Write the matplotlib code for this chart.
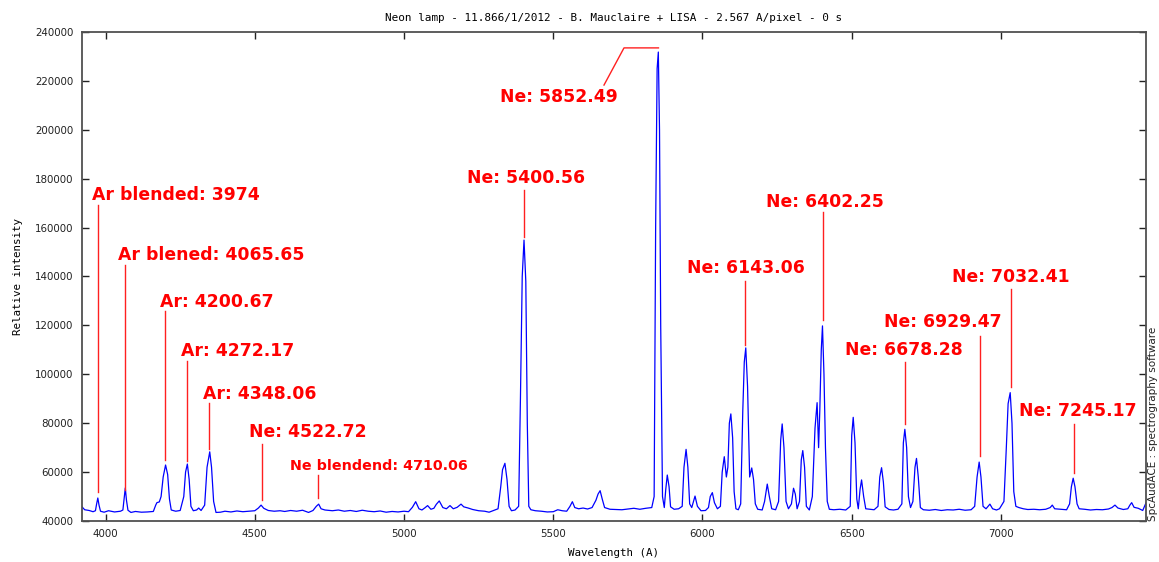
import matplotlib
matplotlib.use("Agg")
import matplotlib.pyplot as plt

# spectre de la lampe au néon (longueur d'onde en A, intensité relative)
wavelength = [
    3921, 3930, 3945, 3958, 3966, 3970, 3974, 3978, 3983, 3995, 4010, 4030, 4050, 4058, 4062, 4066,
    4070, 4075, 4085, 4100, 4120, 4140, 4160, 4168, 4172, 4180, 4186, 4193, 4201, 4208, 4214, 4220,
    4235, 4250, 4262, 4268, 4274, 4280, 4286, 4294, 4305, 4312, 4320, 4332, 4340, 4349, 4355, 4362,
    4370, 4385, 4400, 4420, 4440, 4460, 4480, 4500, 4512, 4521, 4530, 4545, 4565, 4585, 4600, 4620,
    4640, 4660, 4680, 4695, 4706, 4714, 4722, 4735, 4760, 4780, 4800, 4820, 4840, 4860, 4880, 4900,
    4920, 4940, 4960, 4980, 5000, 5015, 5028, 5039, 5050, 5060, 5070, 5079, 5090, 5100, 5108, 5118,
    5130, 5142, 5154, 5165, 5178, 5191, 5200, 5215, 5230, 5250, 5270, 5285, 5300, 5315, 5324, 5330,
    5338, 5345, 5352, 5360, 5372, 5384, 5390, 5396, 5402, 5408, 5413, 5418, 5425, 5440, 5460, 5480,
    5500, 5515, 5530, 5545, 5556, 5564, 5572, 5585, 5600, 5615, 5630, 5643, 5650, 5657, 5664, 5672,
    5690, 5710, 5730, 5750, 5770, 5790, 5810, 5830, 5838, 5843, 5848, 5852, 5856, 5860, 5866, 5872,
    5877, 5882, 5888, 5893, 5905, 5920, 5932, 5938, 5945, 5951, 5957, 5964, 5975, 5983, 5995, 6010,
    6020, 6026, 6033, 6040, 6050, 6060, 6066, 6073, 6080, 6085, 6090, 6095, 6101, 6106, 6112, 6120,
    6128, 6135, 6140, 6145, 6151, 6158, 6165, 6171, 6177, 6185, 6200, 6208, 6217, 6224, 6232, 6245,
    6255, 6262, 6267, 6273, 6280, 6288, 6298, 6305, 6311, 6317, 6325, 6331, 6336, 6342, 6348, 6358,
    6368, 6377, 6384, 6389, 6393, 6398, 6402, 6407, 6412, 6418, 6425, 6440, 6460, 6480, 6495, 6500,
    6505, 6511, 6517, 6522, 6528, 6533, 6540, 6547, 6560, 6575, 6588, 6594, 6600, 6606, 6612, 6625,
    6640, 6655, 6668, 6673, 6678, 6684, 6690, 6697, 6705, 6712, 6717, 6723, 6730, 6740, 6760, 6780,
    6800, 6820, 6840, 6860, 6880, 6900, 6912, 6920, 6927, 6933, 6940, 6950, 6963, 6972, 6985, 6995,
    7010, 7018, 7024, 7031, 7037, 7043, 7050, 7060, 7075, 7090, 7110, 7130, 7150, 7165, 7172, 7180,
    7200, 7220, 7230, 7236, 7242, 7248, 7255, 7262, 7280, 7300, 7320, 7340, 7360, 7372, 7382, 7392,
    7410, 7425, 7432, 7438, 7446, 7460, 7475, 7486,
]
intensity = [
    45800, 44600, 44300, 43800, 44200, 47000, 49400, 46500, 44000, 43600, 44200, 43700, 44000, 44500, 49000, 53500,
    48500, 44400, 43500, 43900, 43600, 43700, 43900, 46500, 47500, 47800, 50000, 58000, 62900, 59000, 49000, 44500,
    44000, 44300, 50000, 60000, 63300, 57000, 46000, 44200, 44500, 45300, 44300, 46500, 62000, 68300, 62000, 48000,
    43500, 43600, 44000, 43700, 44100, 43800, 44000, 44200, 45300, 46500, 45200, 44300, 44000, 44200, 43900, 44300,
    44000, 44400, 43500, 44300, 46000, 46900, 45000, 44500, 44200, 44500, 44000, 44300, 43900, 44400, 44000, 43800,
    44100, 43600, 43900, 43700, 44000, 43800, 45600, 47900, 45000, 44500, 45400, 46300, 44800, 45200, 46800, 48200,
    45500, 45000, 46300, 45000, 45600, 46900, 45800, 45300, 44700, 44200, 44000, 43600, 44300, 45000, 54000, 61000,
    63600, 57000, 46000, 44200, 44500, 46000, 90000, 140000, 154900, 138000, 80000, 46000, 44600, 44200, 44000, 43700,
    43800, 44600, 44200, 44000, 46000, 47900, 45500, 45000, 45300, 44900, 45500, 48500, 51000, 52400, 49000, 45500,
    44800, 44700, 44600, 44900, 45200, 44800, 45200, 45500, 50000, 160000, 225000, 231800, 200000, 120000, 50000, 45500,
    53000, 58800, 54000, 45800, 44800, 45000, 46000, 62000, 69300, 62000, 47000, 45500, 50200, 46000, 44200, 44300,
    45500, 50000, 51600, 47500, 45000, 46000, 60000, 66300, 58000, 62000, 80000, 83800, 74000, 52000, 45000, 44600,
    47000, 85000, 105000, 110800, 95000, 58000, 61700, 57000, 47000, 44800, 44500, 48000, 55100, 50000, 45000, 44600,
    48000, 73000, 79700, 70000, 48000, 45000, 47000, 53400, 51000, 45000, 48000, 65000, 68800, 62000, 46000, 44500,
    50000, 78000, 88400, 70000, 85000, 110000, 119800, 100000, 70000, 48000, 44800, 44600, 44800, 44500, 46000, 75000,
    82400, 72000, 49000, 45000, 53000, 56800, 50000, 45000, 44800, 44600, 46000, 58000, 61800, 56000, 45800, 44700,
    44500, 44800, 47000, 72000, 77500, 70000, 50000, 45500, 48000, 62000, 65600, 58000, 45500, 44600, 44400, 44700,
    44300, 44600, 44500, 44800, 44400, 44600, 46000, 58000, 64100, 58000, 46000, 45000, 46900, 45000, 44500, 45000,
    48000, 70000, 88000, 92500, 80000, 52000, 46000, 45500, 45000, 44700, 44800, 44600, 44800, 45500, 46500, 45000,
    44800, 44600, 47000, 54000, 57500, 54000, 47000, 45000, 44800, 44500, 44700, 44600, 44900, 45500, 46500, 45300,
    44700, 45000, 46500, 47500, 45600, 45200, 44300, 47400,
]

# identifications des raies : texte, position du texte, trait de repère
labels = ["Ar blended: 3974", "Ar blened: 4065.65", "Ar: 4200.67", "Ar: 4272.17", "Ar: 4348.06",
          "Ne: 4522.72", "Ne blendend: 4710.06", "Ne: 5400.56", "Ne: 5852.49", "Ne: 6143.06",
          "Ne: 6402.25", "Ne: 6678.28", "Ne: 6929.47", "Ne: 7032.41", "Ne: 7245.17"]
label_x = [3955, 4042, 4183, 4253, 4327, 4481, 4618, 5211, 5322, 5948, 6213, 6477, 6608, 6836, 7060]
label_y = [173300, 148800, 129600, 109500, 92000, 76400, 62500, 180300, 213400, 143500,
           170500, 109900, 121400, 139800, 85000]
line_x = [3974, 4065.65, 4200.67, 4272.17, 4348.06, 4522.72, 4710.06, 5400.56, None, 6143.06,
          6402.25, 6678.28, 6929.47, 7032.41, 7245.17]
line_top = [169200, 144700, 125900, 105400, 88300, 71500, 58800, 175400, None, 138200,
            166400, 105000, 115700, 134900, 79700]
line_bottom = [51900, 52700, 65000, 64500, 69400, 48600, 49400, 156200, None, 112000,
               122200, 79700, 66600, 94800, 59600]
# repère coudé pour la raie 5852.49 qui sort presque du cadre
bent_x = [5670, 5737, 5852.49]
bent_y = [218300, 233500, 233500]

fig = plt.figure(figsize=(11.59, 5.62), dpi=100)
ax = fig.add_axes([82 / 1159, 41 / 562, 1064 / 1159, 489 / 562])

ax.plot(wavelength, intensity, color="#0000ff", lw=0.9)

for i, txt in enumerate(labels):
    size = 10.3 if "blendend" in txt else 12.4
    ax.text(label_x[i], label_y[i], txt, color="#ff0000", fontsize=size, fontweight="bold",
            ha="left", va="center", family="DejaVu Sans")
    if line_x[i] is not None:
        ax.plot([line_x[i], line_x[i]], [line_bottom[i], line_top[i]], color="#ff2020", lw=1)
ax.plot(bent_x, bent_y, color="#ff2020", lw=1)

ax.set_xlim(3921, 7486)
ax.set_ylim(40000, 240000)
ax.set_xticks([4000, 4500, 5000, 5500, 6000, 6500, 7000])
ax.set_yticks(range(40000, 240001, 20000))
ax.tick_params(direction="in", top=True, right=True, length=5, width=1,
               labelsize=7.4, pad=6, colors="#222222")
for sp in ax.spines.values():
    sp.set_color("#505050")
    sp.set_linewidth(1.3)

mono = "DejaVu Sans Mono"
ax.set_xlabel("Wavelength (A)", family=mono, fontsize=7.8, labelpad=6)
ax.set_ylabel("Relative intensity", family=mono, fontsize=7.8, labelpad=9)
ax.set_title("Neon lamp - 11.866/1/2012 - B. Mauclaire + LISA - 2.567 A/pixel - 0 s",
             family=mono, fontsize=7.9, pad=8)

fig.text(1153 / 1159, 41 / 562, "SpcAudACE : spectrography software", rotation=90,
         ha="center", va="bottom", fontsize=7.5, color="#222222")

fig.savefig("out.png", dpi=100)
